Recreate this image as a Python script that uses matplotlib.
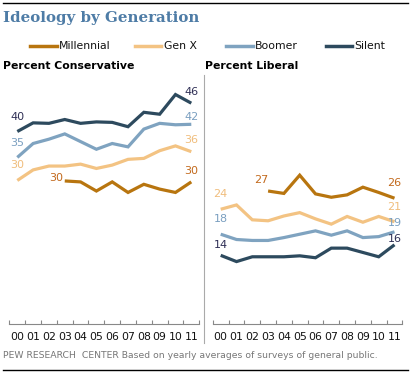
import numpy as np
import matplotlib
matplotlib.use('Agg')
import matplotlib.pyplot as plt
from matplotlib.lines import Line2D

years = list(range(12))
year_labels = ['00', '01', '02', '03', '04', '05', '06', '07', '08', '09', '10', '11']

# percent conservative
cons_silent = [40.0, 41.8, 41.7, 42.5, 41.7, 42.0, 41.9, 41.0, 44.0, 43.6, 47.7, 45.9]
cons_boomer = [34.6, 37.5, 38.4, 39.5, 37.9, 36.3, 37.5, 36.8, 40.5, 41.7, 41.4, 41.5]
cons_genx = [29.8, 32.0, 32.8, 32.8, 33.2, 32.3, 33.0, 34.2, 34.4, 36.0, 37.0, 35.8]
cons_mill = [np.nan, np.nan, np.nan, 29.7, 29.5, 27.6, 29.5, 27.3, 29.0, 28.0, 27.3, 29.5]

# percent liberal
lib_mill = [np.nan, np.nan, np.nan, 27.6, 27.1, 30.9, 27.0, 26.3, 26.8, 28.4, 27.3, 26.1]
lib_genx = [23.8, 24.7, 21.6, 21.4, 22.4, 23.1, 21.8, 20.7, 22.3, 21.1, 22.3, 21.2]
lib_boomer = [18.6, 17.5, 17.3, 17.3, 17.9, 18.6, 19.3, 18.4, 19.3, 17.9, 18.1, 19.1]
lib_silent = [14.2, 12.9, 13.9, 13.9, 13.9, 14.1, 13.7, 15.7, 15.7, 14.8, 13.9, 16.4]

generations = ['Millennial', 'Gen X', 'Boomer', 'Silent']
colors = {'Millennial': '#b8750f', 'Gen X': '#f3c383',
          'Boomer': '#7fa3c0', 'Silent': '#2d4a5e'}
label_colors = {'Millennial': '#c2691c', 'Gen X': '#f0bd7c',
                'Boomer': '#7a9fc0', 'Silent': '#2f2f55'}

W, H = 411, 375
fig = plt.figure(figsize=(W / 100, H / 100), dpi=100)


def ax_rect(x0, x1, ytop, ybot):
    return [x0 / W, 1 - ybot / H, (x1 - x0) / W, (ybot - ytop) / H]


def draw_panel(ax, series, texts, start_off, end_off):
    for gen in generations:
        ax.plot(years, series[gen], color=colors[gen], lw=2.3,
                solid_joinstyle='miter', solid_capstyle='butt')
    for gen in generations:
        vals = series[gen]
        i = next(k for k, v in enumerate(vals) if not np.isnan(v))
        ax.annotate(texts[gen][0], (years[i], vals[i]), xytext=start_off[gen],
                    textcoords='offset pixels', ha='center', va='center',
                    fontsize=8, color=label_colors[gen])
        ax.annotate(texts[gen][1], (years[-1], vals[-1]), xytext=end_off[gen],
                    textcoords='offset pixels', ha='center', va='center',
                    fontsize=8, color=label_colors[gen])
    ax.set_xlim(-0.5, 11.5)
    ax.set_ylim(0, (323.5 - 75) / 4.8)
    for s in ['top', 'right', 'left']:
        ax.spines[s].set_visible(False)
    ax.spines['bottom'].set_color('#888888')
    ax.spines['bottom'].set_linewidth(0.8)
    ax.set_yticks([])
    ax.set_xticks(np.arange(-0.5, 12, 1))
    ax.set_xticklabels([])
    ax.tick_params(axis='x', direction='in', length=3, color='#888888', width=0.8)
    ax.set_xticks(years, minor=True)
    ax.set_xticklabels(year_labels, minor=True, fontsize=7.8, color='#111111')
    ax.tick_params(axis='x', which='minor', length=0, pad=6)
    ax.patch.set_visible(False)


# left panel
ax1 = fig.add_axes(ax_rect(9.4, 199.2, 75, 323.5))
draw_panel(ax1, {'Millennial': cons_mill, 'Gen X': cons_genx,
                 'Boomer': cons_boomer, 'Silent': cons_silent},
           {'Silent': ('40', '46'), 'Boomer': ('35', '42'),
            'Gen X': ('30', '36'), 'Millennial': ('30', '30')},
           {'Silent': (0, 14), 'Boomer': (0, 14), 'Gen X': (0, 15), 'Millennial': (-9, 3)},
           {'Silent': (0, 11), 'Boomer': (0, 7), 'Gen X': (0, 12), 'Millennial': (0, 11)})

# right panel
ax2 = fig.add_axes(ax_rect(212.8, 402.4, 75, 323.5))
draw_panel(ax2, {'Millennial': lib_mill, 'Gen X': lib_genx,
                 'Boomer': lib_boomer, 'Silent': lib_silent},
           {'Silent': ('14', '16'), 'Boomer': ('18', '19'),
            'Gen X': ('24', '21'), 'Millennial': ('27', '26')},
           {'Silent': (0, 10), 'Boomer': (0, 15), 'Gen X': (0, 15), 'Millennial': (-7, 11)},
           {'Silent': (0, 6), 'Boomer': (0, 9), 'Gen X': (0, 15), 'Millennial': (0, 15)})

# rules, separator
fig.add_artist(Line2D([3 / W, 408 / W], [1 - 3 / H, 1 - 3 / H], color='black', lw=1))
fig.add_artist(Line2D([3 / W, 408 / W], [1 - 370 / H, 1 - 370 / H], color='black', lw=1))
fig.add_artist(Line2D([204 / W, 204 / W], [1 - 75 / H, 1 - 343 / H], color='#aaaaaa', lw=0.8))

# title
fig.text(3 / W, 1 - 18 / H, 'Ideology by Generation', fontsize=10.8, fontweight='bold',
         family='DejaVu Serif', color='#4e7ca6', va='center', ha='left')

# legend
leg_x = [(30, 57, 59), (135, 161, 164), (226, 253, 255), (326, 352, 354)]
for gen, (l0, l1, tx) in zip(generations, leg_x):
    fig.add_artist(Line2D([l0 / W, l1 / W], [1 - 46 / H, 1 - 46 / H],
                          color=colors[gen], lw=2.5))
    fig.text(tx / W, 1 - 46 / H, gen, fontsize=7.8, va='center', ha='left', color='#111111')

fig.text(3 / W, 1 - 66 / H, 'Percent Conservative', fontsize=7.8, fontweight='bold',
         va='center', ha='left')
fig.text(205 / W, 1 - 66 / H, 'Percent Liberal', fontsize=7.8, fontweight='bold',
         va='center', ha='left')

fig.text(3 / W, 1 - 355 / H,
         'PEW RESEARCH  CENTER Based on yearly averages of surveys of general public.',
         fontsize=6.7, color='#777777', va='center', ha='left')

fig.savefig('out.png', dpi=100)
